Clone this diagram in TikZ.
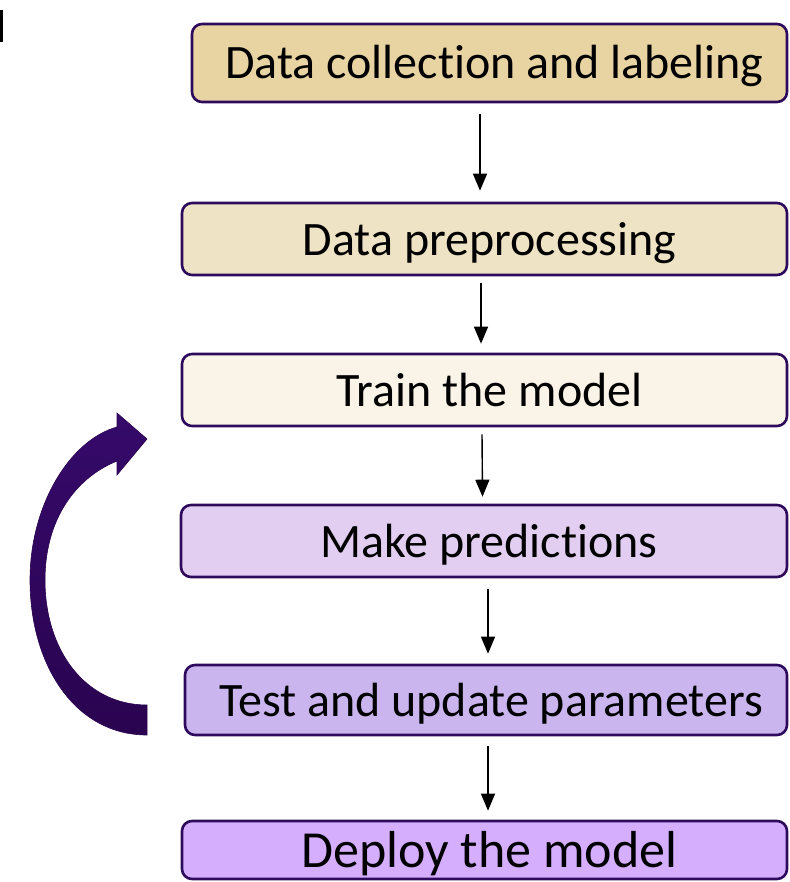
\documentclass[tikz,border=0pt]{standalone}
\usepackage{fontspec}
\setmainfont{Carlito}[Ligatures=NoCommon]
\usetikzlibrary{arrows.meta}
\definecolor{edgepurple}{HTML}{2E0A5C}
\definecolor{fillA}{HTML}{E8D4A2}
\definecolor{fillB}{HTML}{EEE3C5}
\definecolor{fillC}{HTML}{F9F3E8}
\definecolor{fillD}{HTML}{E2CEF0}
\definecolor{fillE}{HTML}{CBB5EF}
\definecolor{fillF}{HTML}{D5AEFD}
\definecolor{loopTop}{HTML}{350A6A}
\definecolor{loopBot}{HTML}{2A0350}
\tikzset{
  stage/.style={draw=edgepurple, line width=2.6pt, rounded corners=10pt,
    inner sep=0pt, font=\fontsize{48}{52}\selectfont, text=black,
    text height=42pt, text depth=10pt,
    execute at begin node=\hspace*{10pt}},
  flow/.style={line width=1.4pt, -{Triangle[width=14pt,length=17pt]}},
}
\begin{document}
\begin{tikzpicture}[x=1pt,y=-1pt]
\useasboundingbox (0,0) rectangle (789,882);

% small mark at the left edge
\fill[black] (0,10) rectangle (2.5,42);

% process stages
\node[stage, fill=fillA, minimum width=595pt, minimum height=78pt] (b1) at (489.5,63) {Data collection and labeling};
\node[stage, fill=fillB, minimum width=605pt, minimum height=72pt] (b2) at (484.5,239) {Data preprocessing};
\node[stage, fill=fillC, minimum width=605pt, minimum height=72pt] (b3) at (484.5,390) {Train the model};
\node[stage, fill=fillD, minimum width=606pt, minimum height=72pt] (b4) at (484,541) {Make predictions};
\node[stage, fill=fillE, minimum width=602pt, minimum height=70pt] (b5) at (486,700) {Test and update parameters};
\node[stage, fill=fillF, minimum width=605pt, minimum height=58pt,
      font=\fontsize{52}{57}\selectfont, text height=46pt, text depth=11pt] (b6) at (484.5,850) {Deploy the model};

% connectors between stages
\draw[flow] ([xshift=-9.5pt,yshift=-11pt]b1.south) -- ([xshift=-4.5pt,yshift=11pt]b2.north);
\draw[flow] ([xshift=-3.5pt,yshift=-7pt]b2.south) -- ([xshift=-3.5pt,yshift=9pt]b3.north);
\draw[flow] ([xshift=-2.5pt,yshift=-7pt]b3.south) -- ([xshift=-1.5pt,yshift=7pt]b4.north);
\draw[flow] ([xshift=4pt,yshift=-11pt]b4.south) -- ([xshift=2pt,yshift=10pt]b5.north);
\draw[flow] ([xshift=2pt,yshift=-10pt]b5.south) -- ([xshift=3.5pt,yshift=9pt]b6.north);

% feedback loop: curved block arrow from testing back to training
\shade[top color=loopTop, bottom color=loopBot, draw=loopBot, line width=0.6pt]
  (147,735) .. controls (75,735) and (30,665) .. (30,580)
  .. controls (30,505) and (70,440) .. (117,427)
  -- (117,413) -- (147,439) -- (117,475) -- (117,461)
  .. controls (75,478) and (45,520) .. (45,580)
  .. controls (45,650) and (85,705) .. (147,705) -- cycle;
\end{tikzpicture}
\end{document}
